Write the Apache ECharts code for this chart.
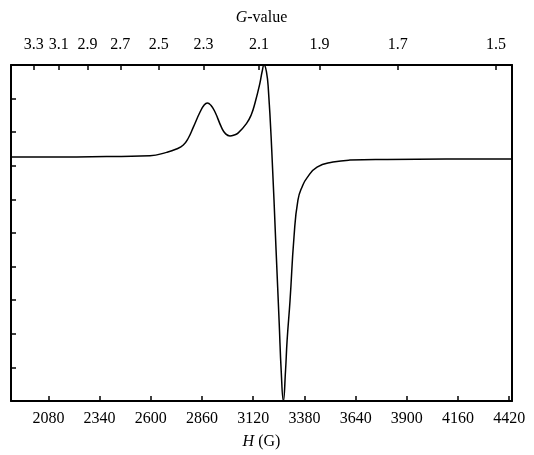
<!DOCTYPE html>
<html>
<head>
<meta charset="utf-8">
<script src="https://cdn.jsdelivr.net/npm/echarts@6/dist/echarts.min.js"></script>
<style>html,body{margin:0;padding:0;background:#fff;}#c{width:534px;height:455px;}</style>
</head>
<body>
<div id="c"></div>
<script>
// Magnetic field (G) and EPR signal (arbitrary units, baseline ~7.25)
const fieldH = [1890, 2100, 2300, 2450, 2596, 2680, 2730, 2765, 2790, 2816, 2850, 2870, 2887, 2905, 2926, 2960, 2980, 3002, 3020, 3044, 3087, 3110, 3129, 3154, 3165, 3175, 3187, 3197, 3214, 3236, 3252, 3262, 3273, 3284, 3292, 3307, 3327, 3347, 3370, 3393, 3444, 3525, 3611, 3800, 4100, 4434];
const signal = [7.26, 7.26, 7.27, 7.28, 7.3, 7.4, 7.5, 7.62, 7.82, 8.15, 8.6, 8.8, 8.87, 8.8, 8.6, 8.13, 7.95, 7.89, 7.91, 7.98, 8.27, 8.52, 8.87, 9.46, 9.8, 10.0, 9.8, 9.26, 7.47, 4.49, 2.3, 0.9, 0, 0.9, 1.8, 3.0, 4.88, 5.98, 6.4, 6.64, 6.96, 7.11, 7.17, 7.19, 7.2, 7.2];
// Bottom axis ticks (H, gauss)
const hTicks = [2080, 2340, 2600, 2860, 3120, 3380, 3640, 3900, 4160, 4420];
// Top axis: g-value labels and the field positions of their ticks
const gLabels = ['3.3', '3.1', '2.9', '2.7', '2.5', '2.3', '2.1', '1.9', '1.7', '1.5'];
const gTickH = [2006, 2132, 2279, 2445, 2640, 2867, 3149, 3457, 3854, 4353];

const FONT = 'Liberation Serif';
const chart = echarts.init(document.getElementById('c'));
const axisLineStyle = {color: '#000', width: 2};
chart.setOption({
  animation: false,
  backgroundColor: '#fff',
  grid: {left: 11, right: 22, top: 65, bottom: 54, containLabel: false, outerBoundsMode: 'none'},
  xAxis: [
    {
      type: 'value', position: 'bottom', min: 1890, max: 4434,
      axisLine: {show: true, onZero: false, lineStyle: axisLineStyle},
      axisTick: {show: true, inside: true, length: 5, customValues: hTicks, lineStyle: {color: '#000', width: 1.5}},
      axisLabel: {show: true, customValues: hTicks, margin: 10, color: '#000', fontFamily: FONT, fontSize: 16, hideOverlap: false,
        formatter: function (v) { return String(Math.round(v)); }},
      splitLine: {show: false},
      name: '{i|H} (G)', nameLocation: 'middle', nameGap: 33,
      nameTextStyle: {color: '#000', fontFamily: FONT, fontSize: 16, rich: {i: {fontStyle: 'italic', fontFamily: FONT, fontSize: 16, color: '#000'}}}
    },
    {
      type: 'value', position: 'top', min: 1890, max: 4434,
      axisLine: {show: true, onZero: false, lineStyle: axisLineStyle},
      axisTick: {show: true, inside: true, length: 5, customValues: gTickH, lineStyle: {color: '#000', width: 1.5}},
      axisLabel: {
        show: true, customValues: gTickH, margin: 12, color: '#000', fontFamily: FONT, fontSize: 16, hideOverlap: false,
        formatter: function (v) {
          let best = 0;
          for (let i = 0; i < gTickH.length; i++) if (Math.abs(gTickH[i] - v) < Math.abs(gTickH[best] - v)) best = i;
          return gLabels[best];
        }
      },
      splitLine: {show: false},
      name: '{i|G}-value', nameLocation: 'middle', nameGap: 39,
      nameTextStyle: {color: '#000', fontFamily: FONT, fontSize: 16, rich: {i: {fontStyle: 'italic', fontFamily: FONT, fontSize: 16, color: '#000'}}}
    }
  ],
  yAxis: [
    {
      type: 'value', position: 'left', min: 0, max: 10, interval: 1,
      axisLine: {show: true, onZero: false, lineStyle: axisLineStyle},
      axisTick: {show: true, inside: true, length: 5, lineStyle: {color: '#000', width: 1.5}},
      axisLabel: {show: false},
      splitLine: {show: false}
    },
    {
      type: 'value', position: 'right', min: 0, max: 10, interval: 1,
      axisLine: {show: true, onZero: false, lineStyle: axisLineStyle},
      axisTick: {show: false},
      axisLabel: {show: false},
      splitLine: {show: false}
    }
  ],
  series: [{
    type: 'line',
    data: fieldH.map((h, i) => [h, signal[i]]),
    showSymbol: false,
    smooth: 0.5,
    lineStyle: {color: '#000', width: 1.5},
    clip: true
  }]
});
</script>
</body>
</html>
